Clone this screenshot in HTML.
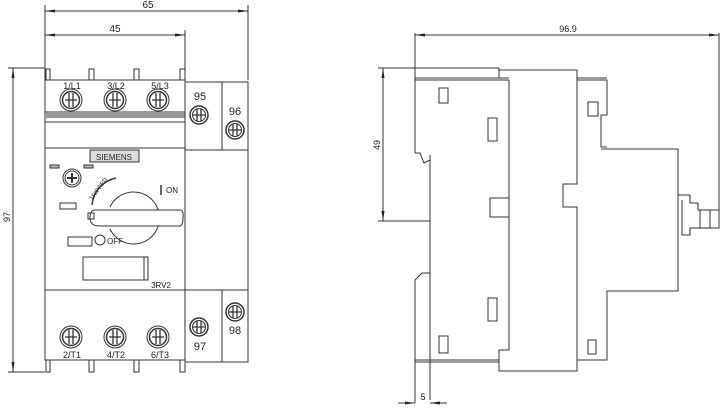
<!DOCTYPE html>
<html><head><meta charset="utf-8"><style>
html,body{margin:0;padding:0;background:#fff;}
svg{display:block;}
text{font-family:"Liberation Sans",sans-serif;fill:#222;}
</style></head><body>
<svg width="720" height="408" viewBox="0 0 720 408" xmlns="http://www.w3.org/2000/svg">
<defs>
<g id="scr"><circle r="11" fill="none" stroke="#333" stroke-width="1"/><circle r="8.5" fill="none" stroke="#333" stroke-width="1.5"/><path d="M-6,0H6M-2,-7V7M2,-7V7" stroke="#333" stroke-width="1.3"/></g>
<g id="scr2"><circle r="9" fill="none" stroke="#333" stroke-width="1.5"/><circle r="6.5" fill="none" stroke="#333" stroke-width="1"/><path d="M-6,0H6M-2,-6V6M2,-6V6" stroke="#333" stroke-width="1.3"/></g>
</defs>
<g stroke="#333" fill="none" stroke-width="1">
<line x1="45" y1="5" x2="45" y2="80"/><line x1="248" y1="5" x2="248" y2="80"/>
<line x1="45" y1="11" x2="248" y2="11"/>
<line x1="185" y1="30" x2="185" y2="80"/>
<line x1="45" y1="35" x2="185" y2="35"/>
<line x1="8" y1="68" x2="45" y2="68"/><line x1="8" y1="372" x2="45" y2="372"/>
<line x1="13" y1="68" x2="13" y2="372"/>
<rect x="45" y="80" width="140" height="280"/>
<line x1="45" y1="112" x2="185" y2="112"/>
<rect x="45" y="113" width="140" height="5" fill="#999" stroke="none"/>
<line x1="45" y1="122" x2="185" y2="122"/>
<line x1="45" y1="148" x2="185" y2="148"/>
<line x1="45" y1="290" x2="248" y2="290"/>
<rect x="185" y="82" width="63" height="68"/>
<line x1="222" y1="82" x2="222" y2="150"/>
<line x1="248" y1="150" x2="248" y2="290"/>
<rect x="185" y="290" width="63" height="72"/>
<line x1="222" y1="290" x2="222" y2="362"/>
<path d="M46,80V69H50V80M89,80V69H94V80M134,80V69H139V80M180,80V69H185V80"/>
<path d="M46,360V372H50V360M89,360V372H94V360M134,360V372H139V360M180,360V372H185V360"/>
<rect x="90" y="150" width="49" height="12" fill="#ddd"/>
<rect x="50" y="165" width="9" height="3" fill="#bbb"/><rect x="84" y="165" width="9" height="3" fill="#bbb"/>
<circle cx="72" cy="178" r="9"/><circle cx="72" cy="178" r="7"/><path d="M67,178H77M72,173V183" stroke-width="2"/>
<path d="M92,205 A30,30 0 0 1 116,178" stroke-width="1.5"/>
<rect x="60" y="203" width="16" height="6"/>
<path d="M110,207 A26,26 0 1 1 110,229"/>
<path d="M95,210 H180 Q184,210 183,218 Q183,227 178,226 H100 Q90,226 90,218 Q90,210 95,210Z" fill="#fff"/>
<rect x="88" y="213" width="6" height="6"/>
<rect x="68" y="237" width="24" height="9"/>
<circle cx="100" cy="240" r="5"/>
<rect x="83" y="257" width="65" height="23"/><line x1="144" y1="257" x2="144" y2="280"/>
<line x1="161" y1="185" x2="161" y2="195" stroke-width="1.5"/>
</g>
<g fill="#222">
<polygon points="45,11 55,9.5 55,12.5"/><polygon points="248,11 238,9.5 238,12.5"/>
<polygon points="45,35 55,33.5 55,36.5"/><polygon points="185,35 175,33.5 175,36.5"/>
<polygon points="13,68 11.5,78 14.5,78"/><polygon points="13,372 11.5,362 14.5,362"/>
</g>
<use href="#scr" x="71" y="100"/><use href="#scr" x="115" y="100"/><use href="#scr" x="158" y="100"/>
<use href="#scr2" x="199" y="115"/><use href="#scr2" x="235" y="130"/>
<use href="#scr" x="71" y="337"/><use href="#scr" x="115" y="337"/><use href="#scr" x="158" y="337"/>
<use href="#scr2" x="199" y="327"/><use href="#scr2" x="235" y="312"/>
<g font-size="10" text-anchor="middle">
<text x="148" y="8">65</text><text x="115" y="32">45</text>
<text transform="translate(10,217) rotate(-90)" font-size="9">97</text>
<text x="72" y="89" font-size="9">1/L1</text><text x="116" y="89" font-size="9">3/L2</text><text x="160" y="89" font-size="9">5/L3</text>
<text x="200" y="100" font-size="11">95</text><text x="235" y="115" font-size="11">96</text>
<text x="72" y="358" font-size="9">2/T1</text><text x="116" y="358" font-size="9">4/T2</text><text x="160" y="358" font-size="9">6/T3</text>
<text x="200" y="350" font-size="11">97</text><text x="235" y="334" font-size="11">98</text>
<text x="114" y="160" font-size="8">SIEMENS</text>
<text x="172" y="193" font-size="8">ON</text>
<text x="115" y="244" font-size="8">OFF</text>
<text x="161" y="288" font-size="8">3RV2</text>
<text transform="translate(100,190) rotate(-55)" font-size="6">TRIPPED</text>
</g>
<g stroke="#333" fill="none" stroke-width="1">
<line x1="415" y1="33" x2="415" y2="153"/>
<line x1="415" y1="35" x2="719" y2="35"/>
<line x1="719" y1="33" x2="719" y2="228"/>
<line x1="378" y1="68" x2="499" y2="68"/>
<line x1="378" y1="221" x2="430" y2="221"/>
<line x1="383" y1="68" x2="383" y2="221"/>
<path d="M415,80H509M415,78H509"/>
<path d="M499,68V78"/>
<path d="M499,70H577V184H563V207H577V371H499V350H509V80"/>
<path d="M509,80V198H490V217H509V348"/>
<path d="M430,155V400"/>
<path d="M415,153H420L424,163L430,160M415,280L422,273H430"/>
<path d="M415,280V403M415,360H499M415,362H499"/>
<path d="M577,80H607V115H601V147H607M577,360H607V291H678V149H601"/>
<path d="M577,78H607"/>
<rect x="439" y="88" width="9" height="15"/><rect x="488" y="118" width="9" height="23"/>
<rect x="488" y="298" width="9" height="23"/><rect x="439" y="336" width="9" height="17"/>
<rect x="588" y="102" width="10" height="14"/><rect x="588" y="340" width="8" height="14"/>
<path d="M678,195H690V203H698V210H719V228H690V235H682V200"/>
<line x1="700" y1="210" x2="700" y2="228"/><line x1="710" y1="210" x2="710" y2="228"/>
<path d="M398,403H415M430,403H447"/>
</g>
<g fill="#222">
<polygon points="415,35 425,33.5 425,36.5"/><polygon points="719,35 709,33.5 709,36.5"/>
<polygon points="383,68 381.5,78 384.5,78"/><polygon points="383,221 381.5,211 384.5,211"/>
<polygon points="415,403 405,401.5 405,404.5"/><polygon points="430,403 440,401.5 440,404.5"/>
</g>
<g font-size="9" text-anchor="middle">
<text x="568" y="32">96.9</text>
<text transform="translate(380,145) rotate(-90)">49</text>
<text x="423" y="400">5</text>
</g>
</svg>
</body></html>
